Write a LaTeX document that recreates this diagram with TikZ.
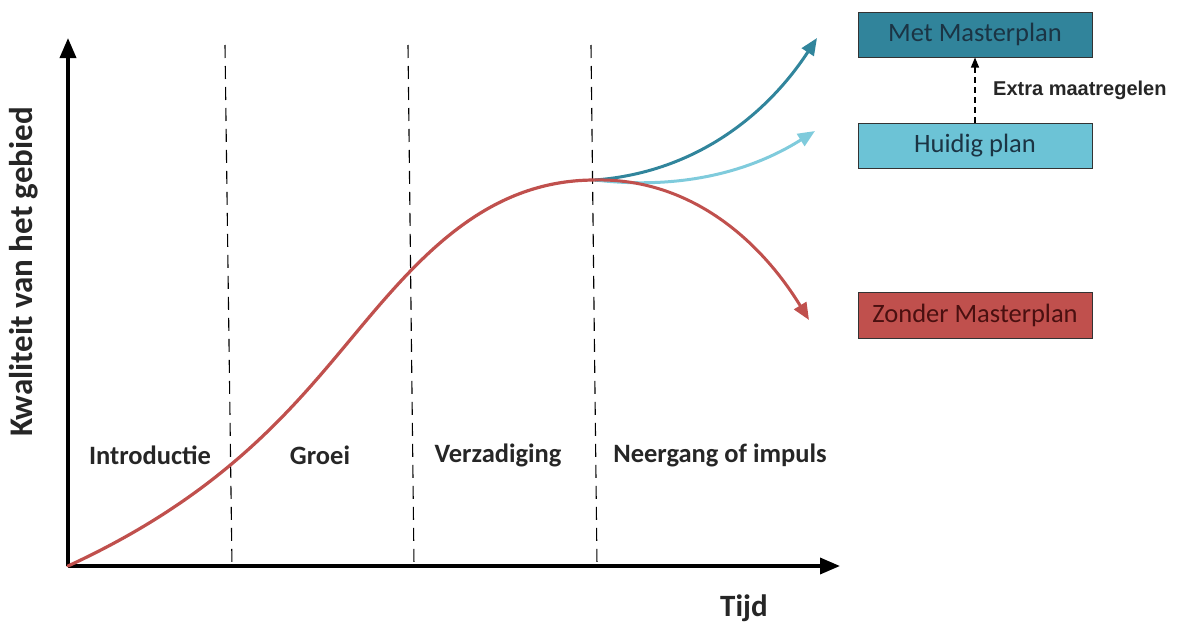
\documentclass[tikz,border=0pt]{standalone}
\usepackage{fontspec}
\setmainfont{Carlito}
\newfontfamily\arialf{Liberation Sans}
\usetikzlibrary{arrows.meta}
\definecolor{cred}{HTML}{C0504D}
\definecolor{cteal}{HTML}{31859C}
\definecolor{clight}{HTML}{7FCBDC}
\definecolor{boxteal}{HTML}{31849B}
\definecolor{boxlight}{HTML}{6CC3D6}
\definecolor{boxred}{HTML}{C0504D}
\definecolor{tdark}{HTML}{1B3444}
\definecolor{tred}{HTML}{4A1010}
\tikzset{
  axis/.style={line width=3.5pt,-{Triangle[length=20pt,width=16pt]}},
  phase/.style={dash pattern=on 13pt off 8pt,line width=1.1pt},
  curve/.style={line width=3.2pt},
  arr/.style={line width=3pt,-{Triangle[length=17pt,width=14pt]}},
  plan/.style={draw=black!80,line width=1pt,minimum width=234pt,minimum height=45pt,inner sep=0pt,font=\fontsize{26.5}{30}\selectfont,text=tdark},
  lab/.style={font=\fontsize{26.5}{30}\selectfont\bfseries,text=black!85},
}
\begin{document}
\begin{tikzpicture}[x=1pt,y=-1pt]
\useasboundingbox (0,0) rectangle (1200,624);
% axes
\coordinate (O) at (68,566);
\coordinate (ytop) at (68,38);
\coordinate (xend) at (840,566);
\draw[axis] (O) -- (ytop);
\draw[axis] (O) -- (xend);
% phase separators
\coordinate (d1t) at (225,45); \coordinate (d1b) at (232,566);
\coordinate (d2t) at (408,45); \coordinate (d2b) at (414,566);
\coordinate (d3t) at (591,45); \coordinate (d3b) at (597,566);
\draw[phase] (d1t) -- (d1b);
\draw[phase] (d2t) -- (d2b);
\draw[phase] (d3t) -- (d3b);
% main curve
\coordinate (infl) at (350,340);
\coordinate (peak) at (595,180);
\draw[curve,cred,line cap=round] (O) .. controls (220,496) and (290,412) .. (infl)
   .. controls (415,262) and (483,180) .. (peak);
% branches
\coordinate (redend) at (809,320);
\coordinate (metend) at (817,38);
\coordinate (huiend) at (815,131);
\draw[arr,clight] (peak) .. controls (680,190) and (750,172) .. (huiend);
\draw[arr,cteal] (peak) .. controls (700,172) and (770,110) .. (metend);
\draw[arr,cred] (peak) .. controls (690,178) and (760,240) .. (redend);
% boxes
\node[plan,fill=boxteal] (met) at (975,34.5) {Met Masterplan};
\node[plan,fill=boxlight] (hui) at (975,145.5) {Huidig plan};
\node[plan,fill=boxred,minimum height=46pt,text=tred] (zon) at (975,315) {Zonder Masterplan};
\draw[line width=1.2pt,dash pattern=on 6pt off 4pt,-{Triangle[length=10pt,width=8pt]}] (hui.north) -- (met.south);
\node[font=\arialf\fontsize{20}{24}\selectfont\bfseries,anchor=west,inner sep=0pt,text=black!85] (extra) at (993,90) {Extra maatregelen};
% phase labels
\node[lab] (l1) at (150,455) {Introductie};
\node[lab] (l2) at (320,455) {Groei};
\node[lab] (l3) at (498,455) {Verzadiging};
\node[lab] (l4) at (720,455) {Neergang of impuls};
% axis labels
\node[font=\fontsize{31}{34}\selectfont\bfseries,text=black!85] (tijd) at (744,608) {Tijd};
\node[font=\fontsize{33}{36}\selectfont\bfseries,text=black!85,rotate=90] (kw) at (24,272) {Kwaliteit van het gebied};
\end{tikzpicture}
\end{document}
